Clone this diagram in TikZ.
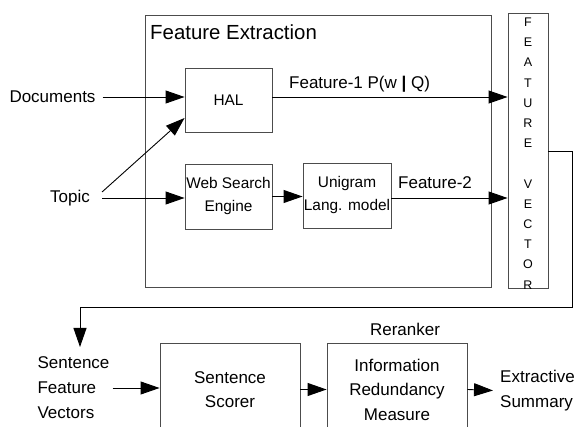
\documentclass[tikz,border=0pt]{standalone}
\usepackage{fontspec}
\setmainfont{Liberation Sans}
\usetikzlibrary{arrows.meta}
\begin{document}
\begin{tikzpicture}[x=1pt,y=-1pt,
  box/.style={draw=black!70, line width=0.9pt, inner sep=0pt, align=center,
    font=\fontsize{15.4}{23}\selectfont},
  bigbox/.style={box, font=\fontsize{17}{24.5}\selectfont},
  lbl/.style={inner sep=0pt, align=left, font=\fontsize{17}{25}\selectfont},
  flow/.style={draw=black, line width=0.9pt, -{Triangle[length=19pt,width=13pt]}},
  wire/.style={draw=black, line width=0.9pt}]
\useasboundingbox (0,0) rectangle (574,427);
\clip (0,0) rectangle (574,427);

% feature extraction stage
\node[box, minimum width=346pt, minimum height=272pt] (fe) at (318,151) {};
\node[anchor=west, inner sep=0pt, font=\fontsize{20.4}{24}\selectfont] (fetitle) at (150,32) {Feature Extraction};

\node[box, minimum width=87pt, minimum height=64pt] (hal) at (228.5,100) {HAL};
\node[box, minimum width=87pt, minimum height=65pt] (web) at (228.5,196.5) {Web Search\\Engine};
\node[box, minimum width=88pt, minimum height=65pt] (uni) at (347,195.5) {Unigram\\Lang. model};

% feature vector column
\node[box, minimum width=40pt, minimum height=275pt] (fv) at (528,150.5) {};
\begin{scope}
  \clip (fv.south west) rectangle (fv.north east);
  \node[inner sep=0pt, align=center, font=\fontsize{12.5}{20.2}\selectfont] (fvtext) at (528,153.5)
    {F\\E\\A\\T\\U\\R\\E\\[20.2pt]V\\E\\C\\T\\O\\R};
\end{scope}

% inputs
\node[lbl] (docs) at (52.5,97) {Documents};
\node[lbl] (topic) at (70,198) {Topic};

\draw[flow] ([shift={(7,0)}]docs.east) -- (docs.east -| hal.west);
\draw[flow] ([shift={(12,0)}]topic.east) -- (topic.east -| web.west);
\draw[flow] ([shift={(12,-6)}]topic.east) -- ([shift={(0,18)}]hal.west);
\draw[flow] (web.east) -- (web.east -| uni.west);

% features into the vector
\draw[flow] ([shift={(0,-3)}]hal.east) -- ([shift={(0,-3)}]hal.east -| fv.west);
\draw[flow] ([shift={(0,2.5)}]uni.east) -- ([shift={(0,2.5)}]uni.east -| fv.west);
\node[lbl, anchor=west] (f1) at (289,84) {Feature-1 P(w {\bfseries|} Q)};
\node[lbl, anchor=west] (f2) at (398,183) {Feature-2};

% reranking stage
\node[lbl] (sfv) at (73.5,388) {Sentence\\Feature\\Vectors};
\node[bigbox, minimum width=140pt, minimum height=93pt] (scorer) at (230,389.5) {Sentence\\Scorer};
\node[bigbox, minimum width=140pt, minimum height=93pt] (info) at (397,389.5) {Information\\Redundancy\\Measure};
\node[lbl] (rerank) at (405,329) {Reranker};
\node[lbl, anchor=west] (ext) at (500,390.5) {Extractive\\Summary};

\coordinate (turn) at (572,307);
\coordinate (drop) at (80,347);
\draw[flow] ([shift={(0,0.5)}]fv.east) -| (turn) -| (drop);

\draw[flow] ([shift={(3,0)}]sfv.east) -- (sfv.east -| scorer.west);
\draw[flow] (scorer.east) -- (scorer.east -| info.west);
\draw[flow] (info.east) -- ([shift={(-7,0)}]ext.west);
\end{tikzpicture}
\end{document}
